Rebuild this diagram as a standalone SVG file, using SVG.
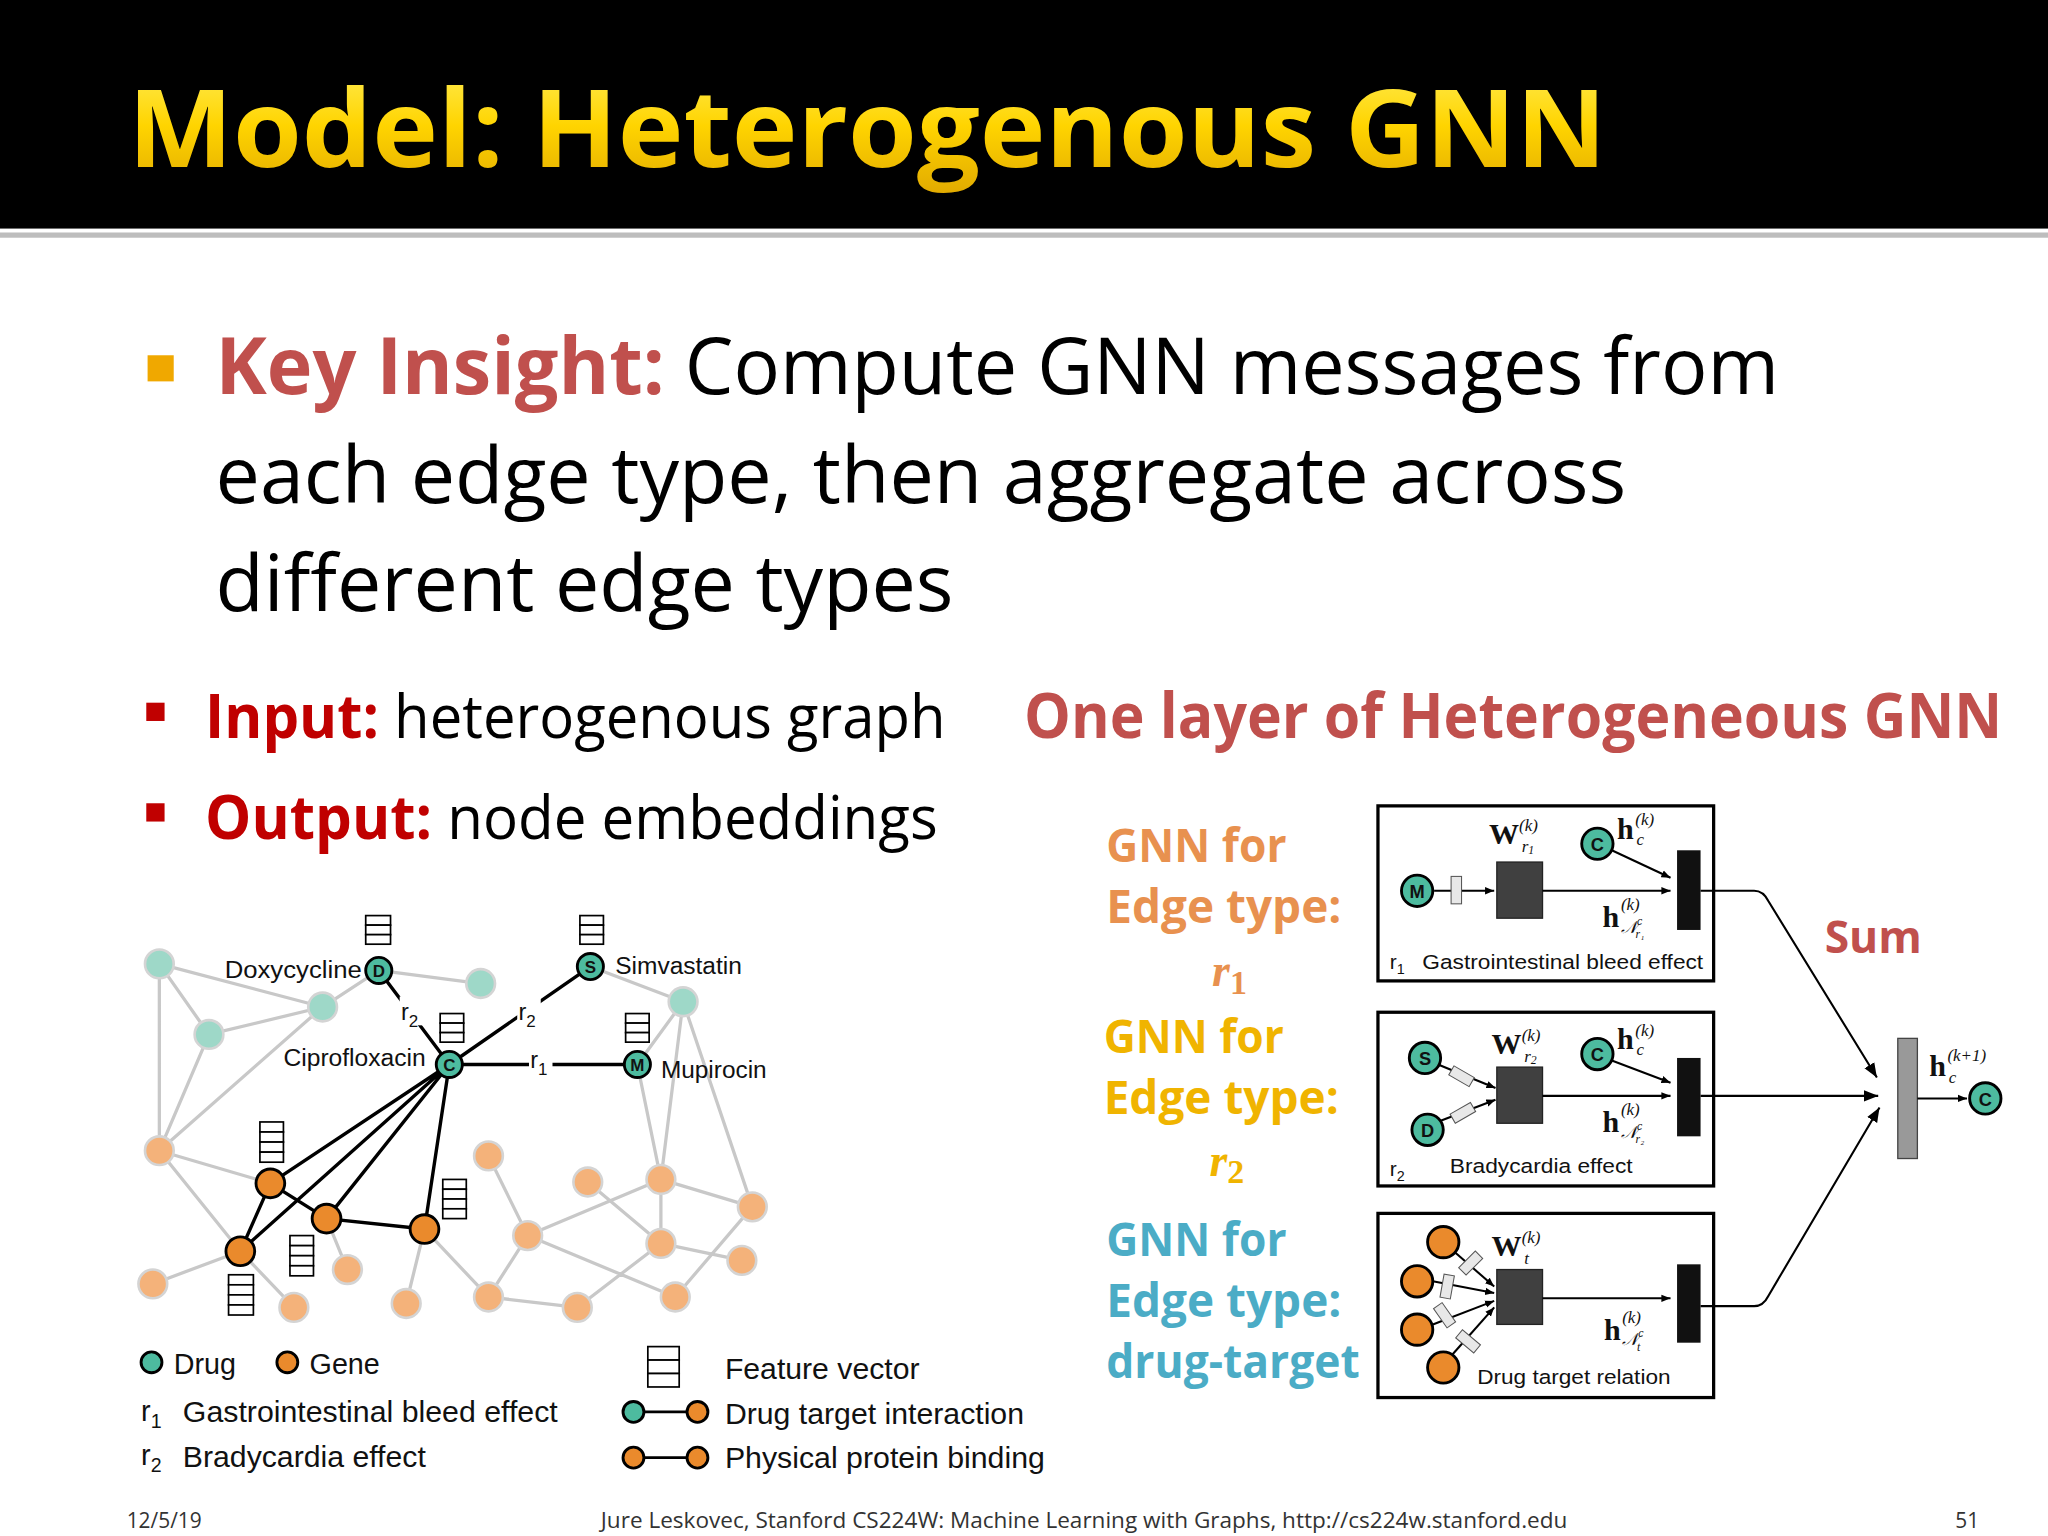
<svg xmlns="http://www.w3.org/2000/svg" width="2048" height="1536" viewBox="0 0 2048 1536">
<defs>
<linearGradient id="yg" x1="0" y1="0" x2="0" y2="1"><stop offset="0" stop-color="#fff060"/><stop offset="0.5" stop-color="#ffd400"/><stop offset="1" stop-color="#e0a800"/></linearGradient>
<marker id="ar" viewBox="0 0 10 10" refX="10" refY="5" markerWidth="7" markerHeight="7" markerUnits="userSpaceOnUse" orient="auto"><path d="M0,1 L10,5 L0,9 z" fill="#000"/></marker>
<marker id="arb" viewBox="0 0 10 10" refX="10" refY="5" markerWidth="11" markerHeight="11" markerUnits="userSpaceOnUse" orient="auto"><path d="M0,1 L10,5 L0,9 z" fill="#000"/></marker>
</defs>
<style>
.ge{stroke:#c8c8c8;stroke-width:2.5;fill:none}
.be{stroke:#000;stroke-width:2.6;fill:none}
.lt{fill:#9ed8c8;stroke:#d4d4d4;stroke-width:2}
.lo{fill:#f4b27a;stroke:#d4d4d4;stroke-width:2}
.dr{fill:#4dbb9f;stroke:#000;stroke-width:2.2}
.gn{fill:#ea8a2c;stroke:#000;stroke-width:2.2}
.fv{fill:#fff;stroke:#000;stroke-width:1.3}
.ar{font-family:"Liberation Sans",Arial,sans-serif;fill:#111}
.os{font-family:"Open Sans","Noto Sans",sans-serif}
.mb{font-family:"Liberation Serif",serif;font-weight:bold;font-size:23px;fill:#111}
.mi{font-family:"Liberation Serif",serif;font-style:italic;font-size:13px;fill:#111}
.ms{font-family:"Liberation Serif",serif;font-style:italic;font-size:9px;fill:#111}
.box{fill:#fff;stroke:#000;stroke-width:2.5}
.ln{stroke:#000;stroke-width:1.6;fill:none}
.chip{fill:#e8e8e8;stroke:#555;stroke-width:0.8}
</style>
<rect width="2048" height="1536" fill="#fff"/>
<g transform="scale(1.30612)">
<rect x="0" y="0" width="1568" height="175" fill="#000"/>
<rect x="0" y="178" width="1568" height="4" fill="#bdbdbd"/>
<text x="98" y="128" class="os" font-weight="bold" font-size="82" fill="url(#yg)" textLength="1132" lengthAdjust="spacingAndGlyphs">Model: Heterogenous GNN</text>

<rect x="113" y="272" width="20" height="20" fill="#f0a800"/>
<text x="165" y="302" class="os" font-size="60" fill="#000" textLength="1197" lengthAdjust="spacingAndGlyphs"><tspan fill="#c0504d" font-weight="bold">Key Insight:</tspan> Compute GNN messages from</text>
<text x="165" y="385" class="os" font-size="60" fill="#000" textLength="1080" lengthAdjust="spacingAndGlyphs">each edge type, then aggregate across</text>
<text x="165" y="468" class="os" font-size="60" fill="#000" textLength="565" lengthAdjust="spacingAndGlyphs">different edge types</text>

<rect x="112" y="538" width="14" height="14" fill="#c00000"/>
<text x="157" y="565" class="os" font-size="46" fill="#000" textLength="567" lengthAdjust="spacingAndGlyphs"><tspan fill="#c00000" font-weight="bold">Input:</tspan> heterogenous graph</text>
<rect x="112" y="615" width="14" height="14" fill="#c00000"/>
<text x="157" y="642" class="os" font-size="46" fill="#000" textLength="561" lengthAdjust="spacingAndGlyphs"><tspan fill="#c00000" font-weight="bold">Output:</tspan> node embeddings</text>

<text x="784" y="565" class="os" font-size="48" font-weight="bold" fill="#c0504d" textLength="749" lengthAdjust="spacingAndGlyphs">One layer of Heterogeneous GNN</text>

<g id="labels-gnn" class="os" font-size="35" font-weight="bold">
<text x="847" y="660" fill="#e8914f" textLength="138" lengthAdjust="spacingAndGlyphs">GNN for</text>
<text x="847" y="707" fill="#e8914f" textLength="180" lengthAdjust="spacingAndGlyphs">Edge type:</text>
<text x="928" y="755" fill="#e8914f" font-family="Liberation Serif,serif" font-style="italic">r<tspan font-size="26" font-style="normal" dy="6">1</tspan></text>
<text x="845" y="806" fill="#f0b400" textLength="138" lengthAdjust="spacingAndGlyphs">GNN for</text>
<text x="845" y="853" fill="#f0b400" textLength="180" lengthAdjust="spacingAndGlyphs">Edge type:</text>
<text x="926" y="900" fill="#f0b400" font-family="Liberation Serif,serif" font-style="italic">r<tspan font-size="26" font-style="normal" dy="6">2</tspan></text>
<text x="847" y="962" fill="#4bacc6" textLength="138" lengthAdjust="spacingAndGlyphs">GNN for</text>
<text x="847" y="1008" fill="#4bacc6" textLength="180" lengthAdjust="spacingAndGlyphs">Edge type:</text>
<text x="847" y="1055" fill="#4bacc6" textLength="194" lengthAdjust="spacingAndGlyphs">drug-target</text>
</g>
<text x="1397" y="730" class="os" font-size="34" font-weight="bold" fill="#c0504d">Sum</text>

<g id="box1">
<rect class="box" x="1055" y="617" width="257" height="134"/>
<line class="ln" x1="1098" y1="682" x2="1144" y2="682" marker-end="url(#ar)"/>
<rect class="chip" x="1111" y="671" width="8" height="21"/>
<rect x="1146" y="660" width="35" height="43" fill="#404040" stroke="#222"/>
<line class="ln" x1="1181" y1="682" x2="1279" y2="682" marker-end="url(#ar)"/>
<line class="ln" x1="1234" y1="651" x2="1279" y2="672" marker-end="url(#ar)"/>
<rect x="1284" y="651" width="18" height="61" fill="#111"/>
<circle class="dr" cx="1085" cy="682" r="12"/><text x="1085" y="687.5" class="ar" font-size="14" font-weight="bold" text-anchor="middle">M</text>
<circle class="dr" cx="1223" cy="646" r="12"/><text x="1223" y="651.5" class="ar" font-size="14" font-weight="bold" text-anchor="middle">C</text>
<text x="1140" y="646" class="mb">W</text><text x="1163" y="636" class="mi">(k)</text><text x="1165" y="652" class="mi">r<tspan class="ms" dy="2">1</tspan></text>
<text x="1238" y="642" class="mb">h</text><text x="1252" y="632" class="mi">(k)</text><text x="1253" y="647" class="mi">c</text>
<text x="1227" y="710" class="mb">h</text><text x="1241" y="697" class="mi">(k)</text><text x="1241" y="714" class="mi">𝒩<tspan class="ms" dy="-6">c</tspan><tspan class="ms" dx="-5" dy="10">r₁</tspan></text>
<text x="1064" y="742" class="ar" font-size="16">r<tspan font-size="11" dy="4">1</tspan></text>
<text x="1089" y="742" class="ar" font-size="16" textLength="215" lengthAdjust="spacingAndGlyphs">Gastrointestinal bleed effect</text>
</g>
<g id="box2">
<rect class="box" x="1055" y="775" width="257" height="133"/>
<line class="ln" x1="1101" y1="815" x2="1145" y2="833" marker-end="url(#ar)"/>
<line class="ln" x1="1103" y1="858" x2="1145" y2="842" marker-end="url(#ar)"/>
<rect class="chip" x="1115" y="815" width="8" height="18" transform="rotate(-60 1119 824)"/>
<rect class="chip" x="1116" y="843" width="8" height="18" transform="rotate(60 1120 852)"/>
<rect x="1146" y="817" width="35" height="43" fill="#404040" stroke="#222"/>
<line class="ln" x1="1181" y1="839" x2="1279" y2="839" marker-end="url(#ar)"/>
<line class="ln" x1="1234" y1="812" x2="1279" y2="829" marker-end="url(#ar)"/>
<rect x="1284" y="810" width="18" height="60" fill="#111"/>
<circle class="dr" cx="1091" cy="810" r="12"/><text x="1091" y="815.5" class="ar" font-size="14" font-weight="bold" text-anchor="middle">S</text>
<circle class="dr" cx="1093" cy="865" r="12"/><text x="1093" y="870.5" class="ar" font-size="14" font-weight="bold" text-anchor="middle">D</text>
<circle class="dr" cx="1223" cy="807" r="12"/><text x="1223" y="812.5" class="ar" font-size="14" font-weight="bold" text-anchor="middle">C</text>
<text x="1142" y="807" class="mb">W</text><text x="1165" y="797" class="mi">(k)</text><text x="1167" y="813" class="mi">r<tspan class="ms" dy="2">2</tspan></text>
<text x="1238" y="803" class="mb">h</text><text x="1252" y="793" class="mi">(k)</text><text x="1253" y="808" class="mi">c</text>
<text x="1227" y="867" class="mb">h</text><text x="1241" y="854" class="mi">(k)</text><text x="1241" y="871" class="mi">𝒩<tspan class="ms" dy="-6">c</tspan><tspan class="ms" dx="-5" dy="10">r₂</tspan></text>
<text x="1064" y="900" class="ar" font-size="16">r<tspan font-size="11" dy="4">2</tspan></text>
<text x="1110" y="898" class="ar" font-size="16" textLength="140" lengthAdjust="spacingAndGlyphs">Bradycardia effect</text>
</g>
<g id="box3">
<rect class="box" x="1055" y="929" width="257" height="141"/>
<line class="ln" x1="1113" y1="958" x2="1144" y2="985" marker-end="url(#ar)"/>
<line class="ln" x1="1097" y1="981" x2="1144" y2="990" marker-end="url(#ar)"/>
<line class="ln" x1="1097" y1="1014" x2="1144" y2="996" marker-end="url(#ar)"/>
<line class="ln" x1="1112" y1="1037" x2="1144" y2="1001" marker-end="url(#ar)"/>
<rect class="chip" x="1122" y="958" width="8" height="18" transform="rotate(45 1126 967)"/>
<rect class="chip" x="1104" y="976" width="8" height="18" transform="rotate(10 1108 985)"/>
<rect class="chip" x="1102" y="998" width="8" height="18" transform="rotate(-35 1106 1007)"/>
<rect class="chip" x="1120" y="1018" width="8" height="18" transform="rotate(-50 1124 1027)"/>
<rect x="1146" y="972" width="35" height="42" fill="#404040" stroke="#222"/>
<line class="ln" x1="1181" y1="994" x2="1279" y2="994" marker-end="url(#ar)"/>
<rect x="1284" y="968" width="18" height="60" fill="#111"/>
<circle class="gn" cx="1105" cy="951" r="12"/>
<circle class="gn" cx="1085" cy="981" r="12"/>
<circle class="gn" cx="1085" cy="1018" r="12"/>
<circle class="gn" cx="1105" cy="1047" r="12"/>
<text x="1142" y="962" class="mb">W</text><text x="1165" y="952" class="mi">(k)</text><text x="1167" y="968" class="mi">t</text>
<text x="1228" y="1026" class="mb">h</text><text x="1242" y="1013" class="mi">(k)</text><text x="1242" y="1030" class="mi">𝒩<tspan class="ms" dy="-6">c</tspan><tspan class="ms" dx="-5" dy="10">t</tspan></text>
<text x="1131" y="1060" class="ar" font-size="16" textLength="148" lengthAdjust="spacingAndGlyphs">Drug target relation</text>
</g>
<g id="aggregate">
<rect x="1453" y="795" width="15" height="92" fill="#999" stroke="#444" stroke-width="1"/>
<line class="ln" x1="1468" y1="841" x2="1506" y2="841" marker-end="url(#ar)"/>
<circle class="dr" cx="1520" cy="841" r="12"/><text x="1520" y="846.5" class="ar" font-size="14" font-weight="bold" text-anchor="middle">C</text>
<text x="1477" y="824" class="mb">h</text><text x="1491" y="812" class="mi">(k+1)</text><text x="1492" y="829" class="mi">c</text>
</g>
<g id="connectors-right">
<path class="ln" d="M1302,682 L1343,682 Q1350,682 1354,690 L1437,825" marker-end="url(#arb)"/>
<line class="ln" x1="1302" y1="839" x2="1438" y2="839" marker-end="url(#arb)"/>
<path class="ln" d="M1302,1000 L1343,1000 Q1350,1000 1354,992 L1439,848" marker-end="url(#arb)"/>
</g>

<g id="connectors">
<path class="ge" d="M122,738 L247,771 M122,738 L160,792 M122,738 L122,881 M160,792 L247,771 M160,792 L122,881 M247,771 L290,743 M247,771 L122,881 M290,743 L368,753 M452,740 L523,767 M523,767 L488,815 M523,767 L506,903 M523,767 L576,924 M488,815 L506,903 M122,881 L207,906 M122,881 L184,958 M184,958 L117,983 M184,958 L225,1001 M250,933 L266,972 M325,941 L311,998 M325,941 L374,993 M374,885 L404,946 M404,946 L506,903 M404,946 L517,993 M404,946 L374,993 M450,905 L506,952 M506,903 L506,952 M506,903 L576,924 M506,952 L568,965 M374,993 L442,1001 M442,1001 L506,952 M517,993 L576,924"/>
<path class="be" d="M290,743 L344,815 M452,740 L344,815 M344,815 L488,815 M344,815 L207,906 M344,815 L184,958 M344,815 L250,933 M344,815 L325,941 M207,906 L184,958 M207,906 L250,933 L325,941"/>
</g>
<g id="edge-labels" class="ar" font-size="18">
<rect x="306" y="763" width="18" height="22" fill="#fff"/>
<text x="307" y="781">r<tspan font-size="13" dy="5">2</tspan></text>
<rect x="396" y="763" width="18" height="22" fill="#fff"/>
<text x="397" y="781">r<tspan font-size="13" dy="5">2</tspan></text>
<rect x="405" y="805" width="18" height="20" fill="#fff"/>
<text x="406" y="818">r<tspan font-size="13" dy="5">1</tspan></text>
</g>
<g id="graph-nodes">
<circle class="lt" cx="122" cy="738" r="11"/><circle class="lt" cx="247" cy="771" r="11"/><circle class="lt" cx="160" cy="792" r="11"/><circle class="lt" cx="368" cy="753" r="11"/><circle class="lt" cx="523" cy="767" r="11"/>
<circle class="lo" cx="122" cy="881" r="11"/><circle class="lo" cx="117" cy="983" r="11"/><circle class="lo" cx="225" cy="1001" r="11"/><circle class="lo" cx="266" cy="972" r="11"/><circle class="lo" cx="311" cy="998" r="11"/><circle class="lo" cx="374" cy="885" r="11"/><circle class="lo" cx="404" cy="946" r="11"/><circle class="lo" cx="450" cy="905" r="11"/><circle class="lo" cx="506" cy="903" r="11"/><circle class="lo" cx="576" cy="924" r="11"/><circle class="lo" cx="506" cy="952" r="11"/><circle class="lo" cx="568" cy="965" r="11"/><circle class="lo" cx="374" cy="993" r="11"/><circle class="lo" cx="442" cy="1001" r="11"/><circle class="lo" cx="517" cy="993" r="11"/>
<circle class="gn" cx="207" cy="906" r="11"/><circle class="gn" cx="250" cy="933" r="11"/><circle class="gn" cx="325" cy="941" r="11"/><circle class="gn" cx="184" cy="958" r="11"/>
</g>
<g id="drug-D"><circle class="dr" cx="290" cy="743" r="10"/><text x="290" y="748" class="ar" font-size="13" font-weight="bold" text-anchor="middle">D</text><text x="277" y="749" class="ar" font-size="18" text-anchor="end" textLength="105" lengthAdjust="spacingAndGlyphs">Doxycycline</text></g>
<g id="drug-S"><circle class="dr" cx="452" cy="740" r="10"/><text x="452" y="745" class="ar" font-size="13" font-weight="bold" text-anchor="middle">S</text><text x="471" y="746" class="ar" font-size="18" textLength="97" lengthAdjust="spacingAndGlyphs">Simvastatin</text></g>
<g id="drug-C"><circle class="dr" cx="344" cy="815" r="10"/><text x="344" y="820" class="ar" font-size="13" font-weight="bold" text-anchor="middle">C</text><text x="326" y="816" class="ar" font-size="18" text-anchor="end" textLength="109" lengthAdjust="spacingAndGlyphs">Ciprofloxacin</text></g>
<g id="drug-M"><circle class="dr" cx="488" cy="815" r="10"/><text x="488" y="820" class="ar" font-size="13" font-weight="bold" text-anchor="middle">M</text><text x="506" y="825" class="ar" font-size="18" textLength="81" lengthAdjust="spacingAndGlyphs">Mupirocin</text></g>
<g id="feature-vectors">
<rect class="fv" x="280" y="701" width="19" height="7.3"/><rect class="fv" x="280" y="708.3" width="19" height="7.3"/><rect class="fv" x="280" y="715.6" width="19" height="7.3"/>
<rect class="fv" x="444" y="701" width="18" height="7.3"/><rect class="fv" x="444" y="708.3" width="18" height="7.3"/><rect class="fv" x="444" y="715.6" width="18" height="7.3"/>
<rect class="fv" x="337" y="776" width="18" height="7.3"/><rect class="fv" x="337" y="783.3" width="18" height="7.3"/><rect class="fv" x="337" y="790.6" width="18" height="7.3"/>
<rect class="fv" x="479" y="776" width="18" height="7.3"/><rect class="fv" x="479" y="783.3" width="18" height="7.3"/><rect class="fv" x="479" y="790.6" width="18" height="7.3"/>
<rect class="fv" x="199" y="859" width="18" height="7.7"/><rect class="fv" x="199" y="866.7" width="18" height="7.7"/><rect class="fv" x="199" y="874.4" width="18" height="7.7"/><rect class="fv" x="199" y="882.1" width="18" height="7.7"/>
<rect class="fv" x="339" y="903" width="18" height="7.5"/><rect class="fv" x="339" y="910.5" width="18" height="7.5"/><rect class="fv" x="339" y="918" width="18" height="7.5"/><rect class="fv" x="339" y="925.5" width="18" height="7.5"/>
<rect class="fv" x="222" y="946" width="18" height="7.7"/><rect class="fv" x="222" y="953.7" width="18" height="7.7"/><rect class="fv" x="222" y="961.4" width="18" height="7.7"/><rect class="fv" x="222" y="969.1" width="18" height="7.7"/>
<rect class="fv" x="175" y="976" width="19" height="7.7"/><rect class="fv" x="175" y="983.7" width="19" height="7.7"/><rect class="fv" x="175" y="991.4" width="19" height="7.7"/><rect class="fv" x="175" y="999.1" width="19" height="7.7"/>
</g>
<g id="legend" class="ar" font-size="22" fill="#222">
<circle class="dr" cx="116" cy="1043" r="8"/><text x="133" y="1052">Drug</text>
<circle class="gn" cx="220" cy="1043" r="8"/><text x="237" y="1052">Gene</text>
<text x="108" y="1088">r<tspan font-size="15" dy="5">1</tspan></text><text x="140" y="1089" textLength="287" lengthAdjust="spacingAndGlyphs">Gastrointestinal bleed effect</text>
<text x="108" y="1122">r<tspan font-size="15" dy="5">2</tspan></text><text x="140" y="1123" textLength="186" lengthAdjust="spacingAndGlyphs">Bradycardia effect</text>
<rect class="fv" x="496" y="1031" width="24" height="10.3"/><rect class="fv" x="496" y="1041.3" width="24" height="10.3"/><rect class="fv" x="496" y="1051.6" width="24" height="10.3"/>
<text x="555" y="1056" textLength="149" lengthAdjust="spacingAndGlyphs">Feature vector</text>
<line x1="485" y1="1081" x2="534" y2="1081" stroke="#000" stroke-width="2"/>
<circle class="dr" cx="485" cy="1081" r="8"/><circle class="gn" cx="534" cy="1081" r="8"/>
<text x="555" y="1090" textLength="229" lengthAdjust="spacingAndGlyphs">Drug target interaction</text>
<line x1="485" y1="1116" x2="534" y2="1116" stroke="#000" stroke-width="2"/>
<circle class="gn" cx="485" cy="1116" r="8"/><circle class="gn" cx="534" cy="1116" r="8"/>
<text x="555" y="1124" textLength="245" lengthAdjust="spacingAndGlyphs">Physical protein binding</text>
</g>
<g id="footer" class="os" font-size="16" fill="#333">
<text x="97" y="1170">12/5/19</text>
<text x="460" y="1170" textLength="740" lengthAdjust="spacingAndGlyphs">Jure Leskovec, Stanford CS224W: Machine Learning with Graphs, http://cs224w.stanford.edu</text>
<text x="1497" y="1170">51</text>
</g>
</g>
</svg>
